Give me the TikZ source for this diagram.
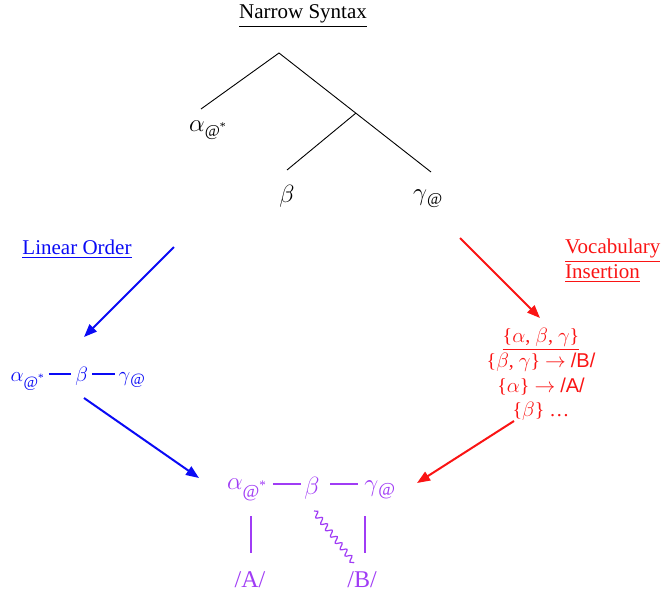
\documentclass[tikz,border=0pt]{standalone}
\usepackage{amsmath}
\usepackage{fontspec}
\setmainfont{Liberation Serif}
\newfontfamily\arialfont{Liberation Sans}
\usetikzlibrary{decorations.pathmorphing,arrows.meta}
\definecolor{vblue}{RGB}{10,10,245}
\definecolor{vred}{RGB}{250,20,20}
\definecolor{vpurp}{RGB}{160,60,245}
\newcommand{\ga}{$\alpha$}
\newcommand{\gb}{$\beta$}
\newcommand{\gc}{$\gamma$}
\newcommand{\astar}{$\vphantom{x}_{\text{@}^{\text{*}}}$}
\newcommand{\at}{$\vphantom{x}_{\text{@}}$}
\newcommand{\ldash}{\hspace{0.18em}\rule[0.3em]{1em}{0.06em}\hspace{0.18em}}
\begin{document}
\begin{tikzpicture}[x=1pt,y=-1pt,
  lbl/.style={inner sep=0pt,font=\fontsize{21}{25}\selectfont},
  glbl/.style={inner sep=0pt,font=\fontsize{23.5}{28}\selectfont},
  big/.style={inner sep=0pt,font=\fontsize{26}{30}\selectfont,text=vpurp},
  tree/.style={line width=0.9pt},
  barrow/.style={vblue,line width=2pt,-{Triangle[length=13pt,width=10pt]}},
  rarrow/.style={vred,line width=2pt,-{Triangle[length=13pt,width=10pt]}},
  pline/.style={vpurp,line width=1.2pt}]
\useasboundingbox (0,0) rectangle (663,592);
% title
\node[lbl] (ns) at (303,16) {\underline{Narrow Syntax}};
% tree
\coordinate (root) at (279,53);
\coordinate (mid) at (356,113);
\coordinate (la) at (201,109);
\coordinate (lb) at (287,170);
\coordinate (lc) at (431,172);
\draw[tree] (la) -- (root) -- (lc);
\draw[tree] (mid) -- (lb);
\node[glbl] (ta) at (208,130) {\ga\astar};
\node[glbl] (tb) at (287,196) {\gb};
\node[glbl] (tc) at (428,199) {\gc\at};
% linear order
\node[lbl,text=vblue] (lo) at (77,249) {\underline{Linear Order}};
\node[glbl,font=\fontsize{22.5}{27}\selectfont,text=vblue] (lin) at (78,379) {\ga\astar\ldash\gb\ldash\gc\at};
\coordinate (b1s) at (174,247);
\coordinate (b1e) at (84,337);
\coordinate (b2s) at (84,398);
\coordinate (b2e) at (199,478);
\draw[barrow] (b1s) -- (b1e);
\draw[barrow] (b2s) -- (b2e);
% vocabulary insertion
\node[lbl,text=vred,anchor=west,align=left] (vi) at (565,261) {\underline{Vocabulary}\\\underline{Insertion}};
\node[lbl,text=vred,font=\fontsize{20}{24}\selectfont] (v1) at (541,339) {\underline{\{\ga, \gb, \gc\}}};
\node[lbl,text=vred,font=\fontsize{20}{24}\selectfont] (v2) at (541,362) {\{\gb, \gc\} $\rightarrow$ {\arialfont /B/}};
\node[lbl,text=vred,font=\fontsize{20}{24}\selectfont] (v3) at (541,387) {\{\ga\} $\rightarrow$ {\arialfont /A/}};
\node[lbl,text=vred,font=\fontsize{20}{24}\selectfont] (v4) at (541,411) {\{\gb\} …};
\coordinate (r1s) at (460,238);
\coordinate (r1e) at (540,318);
\coordinate (r2s) at (514,421);
\coordinate (r2e) at (417,483);
\draw[rarrow] (r1s) -- (r1e);
\draw[rarrow] (r2s) -- (r2e);
% bottom
\node[big] (ba) at (247,490) {\ga\astar};
\node[big] (d1) at (287,488) {\rule[0.3em]{1.08em}{0.05em}};
\node[big] (bb) at (312,488) {\gb};
\node[big] (d2) at (344,488) {\rule[0.3em]{1.04em}{0.05em}};
\node[big] (bc) at (380,490) {\gc\at};
\node[big,font=\fontsize{24}{28}\selectfont] (pa) at (250,580) {/A/};
\node[big,font=\fontsize{24}{28}\selectfont] (pb) at (362,580) {/B/};
\coordinate (ta1) at (251,516);
\coordinate (ta2) at (251,553);
\draw[pline] (ta1) -- (ta2);
\coordinate (tb1) at (365,516);
\coordinate (tb2) at (365,553);
\draw[pline] (tb1) -- (tb2);
\coordinate (s1) at (314,511);
\coordinate (s2) at (354,563);
\draw[pline,decorate,decoration={snake,amplitude=2.8pt,segment length=8pt}] (s1) -- (s2);
\end{tikzpicture}
\end{document}
